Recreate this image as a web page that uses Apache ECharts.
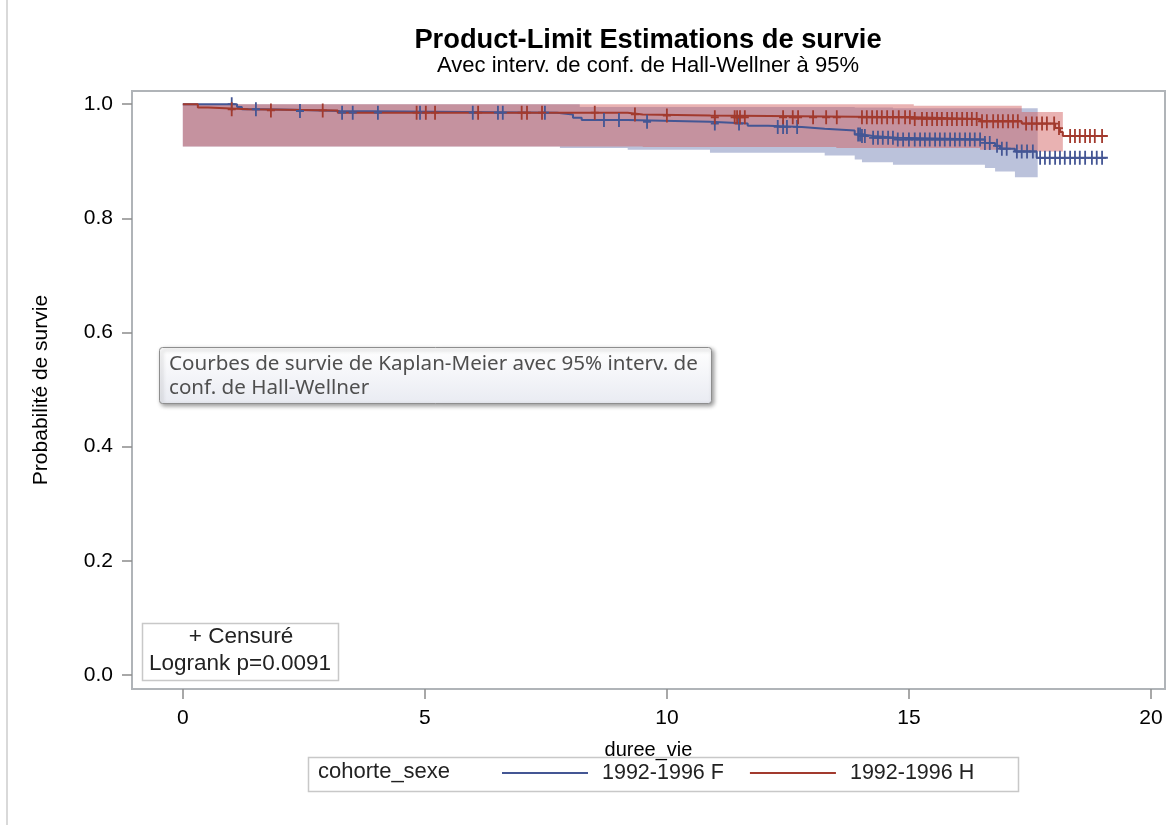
<!DOCTYPE html>
<html>
<head>
<meta charset="utf-8">
<script src="https://cdn.jsdelivr.net/npm/echarts@6/dist/echarts.min.js"></script>
<style>
  html, body { margin: 0; padding: 0; background: #fff; }
  #chart { width: 1173px; height: 825px; }
</style>
</head>
<body>
<div id="chart"></div>
<script>
// Kaplan-Meier estimates (time in years, survival probability after each event)
const timeF = [0, 1.12, 1.22, 1.65, 2.27, 3.24, 7.73, 8.06, 8.24, 9.19, 10.89, 11.67, 12.09, 12.79, 13.26, 13.88, 14.03, 14.26, 14.75, 16.57, 16.78, 16.88, 17.19, 17.64, 19.11];
const survF = [1.0, 0.995, 0.991, 0.990, 0.988, 0.985, 0.982, 0.976, 0.972, 0.969, 0.966, 0.962, 0.960, 0.957, 0.954, 0.947, 0.944, 0.941, 0.938, 0.932, 0.927, 0.922, 0.917, 0.906, 0.906];

const timeH = [0, 0.31, 0.52, 1.35, 3.2, 9.19, 9.50, 10.9, 15.12, 16.47, 17.33, 18.02, 18.12, 18.18, 19.11];
const survH = [1.0, 0.994, 0.991, 0.989, 0.985, 0.982, 0.980, 0.977, 0.974, 0.970, 0.966, 0.958, 0.951, 0.944, 0.944];

// Censored observation times
const censorF = [1.01, 1.51, 2.42, 3.29, 3.51, 4.03, 4.90, 5.99, 6.51, 6.61, 7.48, 8.70, 9.01, 9.59, 10.99, 11.49, 12.29, 12.40, 12.48, 12.69,
  13.95, 13.99, 14.03, 14.09, 14.26, 14.36, 14.46, 14.57, 14.67, 14.77, 14.88, 15.00, 15.12, 15.23, 15.33, 15.43, 15.54, 15.64, 15.74, 15.85,
  15.95, 16.05, 16.16, 16.26, 16.36, 16.47, 16.57, 16.67, 16.82, 16.92, 17.02, 17.23, 17.33, 17.44, 17.56, 17.71, 17.81, 17.91, 18.02, 18.12,
  18.22, 18.33, 18.43, 18.53, 18.64, 18.78, 18.88, 18.99];
const censorH = [1.01, 1.82, 2.89, 4.83, 5.02, 5.21, 6.10, 7.00, 7.11, 7.42, 8.51, 9.34, 10.00, 10.99, 11.40, 11.45, 11.51, 11.61, 12.40, 12.60,
  12.71, 13.02, 13.29, 13.51, 14.03, 14.13, 14.24, 14.34, 14.44, 14.55, 14.67, 14.79, 14.92, 15.02, 15.12, 15.27, 15.37, 15.48, 15.58, 15.68,
  15.79, 15.89, 15.99, 16.10, 16.20, 16.30, 16.40, 16.51, 16.61, 16.74, 16.84, 16.94, 17.05, 17.15, 17.25, 17.42, 17.54, 17.64, 17.75, 17.85,
  18.00, 18.10, 18.33, 18.43, 18.53, 18.64, 18.74, 18.84, 18.99];

// Hall-Wellner 95% bands: breakpoints, then lower / upper value on each segment
const bandTimeF = [0, 7.79, 8.2, 9.19, 10.89, 13.26, 13.88, 14.03, 14.67, 16.57, 16.78, 17.19, 17.66];
const bandLowF  = [0.926, 0.923, 0.923, 0.920, 0.915, 0.910, 0.903, 0.898, 0.894, 0.888, 0.882, 0.872];
const bandHighF = [1.0, 1.0, 0.995, 0.995, 0.995, 0.995, 0.994, 0.994, 0.993, 0.993, 0.993, 0.993];

const bandTimeH = [0, 9.5, 13.5, 15.1, 16.47, 17.33, 18.18];
const bandLowH  = [0.926, 0.925, 0.923, 0.923, 0.920, 0.917];
const bandHighH = [1.0, 1.0, 1.0, 0.997, 0.997, 0.986];

const xTicks = [0, 5, 10, 15, 20];
const yTicks = [0, 0.2, 0.4, 0.6, 0.8, 1.0];

const groupNames = ['1992-1996 F', '1992-1996 H'];
const lineColors = ['#445694', '#A23A2E'];
const fillColors = ['rgba(111,126,179,0.47)', 'rgba(208,91,91,0.47)'];

function pairs(xs, ys) { return xs.map((x, i) => [x, ys[i]]); }

function stepAt(times, values, t) {
  let v = values[0];
  for (let i = 0; i < times.length; i++) if (times[i] <= t) v = values[i];
  return v;
}

// One band = one filled step polygon built from its segments [t0, t1, low, high]
function bandSeries(times, low, high, color) {
  const segs = low.map((lo, i) => [times[i], times[i + 1], lo, high[i]]);
  return {
    type: 'custom', silent: true, z: 1,
    encode: { x: [0, 1], y: [2, 3] },
    data: segs,
    renderItem: function (params, api) {
      if (params.dataIndexInside !== 0) return null;
      const n = params.dataInsideLength;
      const top = [], bottom = [];
      for (let i = 0; i < n; i++) {
        const t0 = api.value(0, i), t1 = api.value(1, i);
        const lo = api.value(2, i), hi = api.value(3, i);
        top.push(api.coord([t0, hi]), api.coord([t1, hi]));
        bottom.push(api.coord([t0, lo]), api.coord([t1, lo]));
      }
      return {
        type: 'polygon',
        shape: { points: top.concat(bottom.reverse()) },
        style: { fill: color }
      };
    }
  };
}

const plusPath = 'path://M3.1,0 H4.9 V14 H3.1 Z M0,6.1 H8 V7.9 H0 Z';

const chart = echarts.init(document.getElementById('chart'), null, { renderer: 'canvas' });

const font = 'Liberation Sans, Arial, sans-serif';
const noteFont = 'Noto Sans, Open Sans, sans-serif';

chart.setOption({
  backgroundColor: '#ffffff',
  animation: false,
  textStyle: { fontFamily: font },
  grid: {
    left: 132, top: 91, width: 1033, height: 598,
    show: true, borderColor: '#b0b4b8', borderWidth: 2, backgroundColor: 'transparent'
  },
  xAxis: {
    type: 'value', min: -1.05, max: 20.29,
    name: 'duree_vie', nameLocation: 'middle', nameGap: 51,
    nameTextStyle: { fontSize: 20, color: '#000', fontFamily: font },
    axisLine: { show: false, onZero: false },
    splitLine: { show: false },
    axisTick: { show: true, customValues: xTicks, length: 10, lineStyle: { color: '#8c8c8c', width: 1.5 } },
    axisLabel: { customValues: xTicks, fontSize: 21, color: '#000', margin: 19, fontFamily: font }
  },
  yAxis: {
    type: 'value', min: -0.0245, max: 1.023,
    name: 'Probabilité de survie', nameLocation: 'middle', nameGap: 80, nameRotate: 90,
    nameTextStyle: { fontSize: 21, color: '#000', fontFamily: font },
    axisLine: { show: false, onZero: false },
    splitLine: { show: false },
    axisTick: { show: true, customValues: yTicks, length: 10, lineStyle: { color: '#8c8c8c', width: 1.5 } },
    axisLabel: { customValues: yTicks, fontSize: 21, color: '#000', margin: 19, fontFamily: font,
      formatter: v => v.toFixed(1) }
  },
  legend: {
    data: [{ name: groupNames[0], icon: 'rect' }, { name: groupNames[1], icon: 'rect' }],
    left: 497, top: 757, itemWidth: 86, itemHeight: 2, itemGap: 26,
    selectedMode: false,
    textStyle: { fontSize: 21.5, color: '#222', fontFamily: font, padding: [0, 0, 0, 9] }
  },
  series: [
    bandSeries(bandTimeF, bandLowF, bandHighF, fillColors[0]),
    bandSeries(bandTimeH, bandLowH, bandHighH, fillColors[1]),
    { name: groupNames[0], type: 'line', step: 'end', data: pairs(timeF, survF), symbol: 'none',
      lineStyle: { color: lineColors[0], width: 2 }, itemStyle: { color: lineColors[0] }, z: 3 },
    { name: groupNames[1], type: 'line', step: 'end', data: pairs(timeH, survH), symbol: 'none',
      lineStyle: { color: lineColors[1], width: 2 }, itemStyle: { color: lineColors[1] }, z: 3 },
    { type: 'scatter', data: censorF.map(t => [t, stepAt(timeF, survF, t)]), symbol: plusPath,
      symbolSize: [8, 14], itemStyle: { color: lineColors[0], opacity: 1 }, z: 4, silent: true },
    { type: 'scatter', data: censorH.map(t => [t, stepAt(timeH, survH, t)]), symbol: plusPath,
      symbolSize: [8, 14], itemStyle: { color: lineColors[1], opacity: 1 }, z: 4, silent: true }
  ],
  graphic: [
    { type: 'line', shape: { x1: 7, y1: 0, x2: 7, y2: 825 }, style: { stroke: '#d9d9d9', lineWidth: 2 }, silent: true },
    { type: 'text', x: 648, y: 40, style: { text: 'Product-Limit Estimations de survie', fontFamily: font,
        fontSize: 27.3, fontWeight: 'bold', fill: '#000', align: 'center', verticalAlign: 'middle' } },
    { type: 'text', x: 648, y: 66, style: { text: 'Avec interv. de conf. de Hall-Wellner à 95%', fontFamily: font,
        fontSize: 22, fill: '#000', align: 'center', verticalAlign: 'middle' } },
    { type: 'rect', shape: { x: 159.5, y: 347.5, width: 552, height: 56, r: 3 },
      style: {
        fill: new echarts.graphic.LinearGradient(0, 0, 0, 1, [
          { offset: 0, color: '#ffffff' }, { offset: 1, color: '#e9ebf2' }]),
        stroke: '#8e8e8e', lineWidth: 1,
        shadowBlur: 4, shadowOffsetX: 2, shadowOffsetY: 2, shadowColor: 'rgba(0,0,0,0.4)'
      }, z: 10 },
    { type: 'text', x: 169, y: 364, z: 11, style: { text: 'Courbes de survie de Kaplan-Meier avec 95% interv. de',
        fontFamily: noteFont, fontSize: 20.6, fill: '#4f4f4f', verticalAlign: 'middle' } },
    { type: 'text', x: 169, y: 388, z: 11, style: { text: 'conf. de Hall-Wellner',
        fontFamily: noteFont, fontSize: 20.6, fill: '#4f4f4f', verticalAlign: 'middle' } },
    { type: 'rect', shape: { x: 142.5, y: 623.5, width: 196, height: 57 },
      style: { fill: '#ffffff', stroke: '#c8c8c8', lineWidth: 1.5 }, z: 10 },
    { type: 'text', x: 241, y: 637, z: 11, style: { text: '+ Censuré', fontFamily: font, fontSize: 22.5,
        fill: '#222', align: 'center', verticalAlign: 'middle' } },
    { type: 'text', x: 240, y: 664, z: 11, style: { text: 'Logrank p=0.0091', fontFamily: font, fontSize: 22.5,
        fill: '#222', align: 'center', verticalAlign: 'middle' } },
    { type: 'rect', shape: { x: 308.5, y: 757.5, width: 710, height: 34 },
      style: { fill: 'none', stroke: '#c8c8c8', lineWidth: 1.5 }, z: 0 },
    { type: 'text', x: 318, y: 772, style: { text: 'cohorte_sexe', fontFamily: font, fontSize: 22,
        fill: '#222', verticalAlign: 'middle' } }
  ]
});
</script>
</body>
</html>
